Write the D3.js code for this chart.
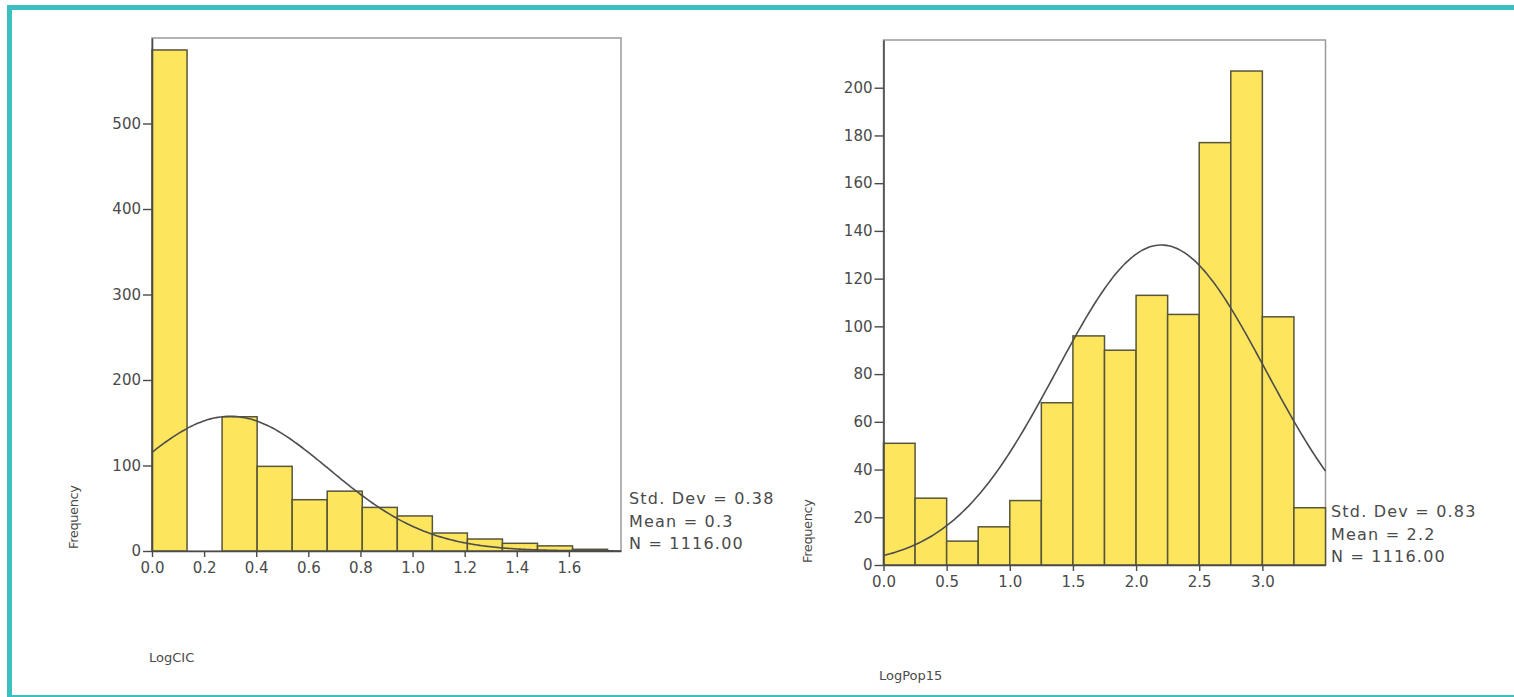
<!DOCTYPE html>
<html>
<head>
<meta charset="utf-8">
<script src="https://cdn.jsdelivr.net/npm/d3@7"></script>
<style>
  html, body { margin: 0; padding: 0; background: #ffffff; }
  svg { display: block; }
  text { font-family: "DejaVu Sans", Verdana, sans-serif; fill: #4a4a4a; }
</style>
</head>
<body>
<svg id="chart" width="1514" height="697"></svg>
<script>
// LogCIC histogram: bin counts (bins start at 0, equal width)
const cicCounts = [586, 0, 157, 99, 60, 70, 51, 41, 21, 14, 9, 6, 2];
const cicBinWidth = 0.1345;
const cicStats = { sd: 0.38, mean: 0.3, n: 1116 };
const cicXTicks = [0.0, 0.2, 0.4, 0.6, 0.8, 1.0, 1.2, 1.4, 1.6];
const cicYTicks = [0, 100, 200, 300, 400, 500];

// LogPop15 histogram
const popCounts = [51, 28, 10, 16, 27, 68, 96, 90, 113, 105, 177, 207, 104, 24];
const popBinWidth = 0.25;
const popStats = { sd: 0.83, mean: 2.2, n: 1116 };
const popXTicks = [0.0, 0.5, 1.0, 1.5, 2.0, 2.5, 3.0];
const popYTicks = [0, 20, 40, 60, 80, 100, 120, 140, 160, 180, 200];

const svg = d3.select("#chart");

// Teal page frame
const frame = "#3bbfc1";
svg.append("rect").attr("x", 7).attr("y", 5).attr("width", 1507).attr("height", 5).attr("fill", frame);
svg.append("rect").attr("x", 7).attr("y", 5).attr("width", 5).attr("height", 692).attr("fill", frame);
svg.append("rect").attr("x", 7).attr("y", 695).attr("width", 1507).attr("height", 2).attr("fill", frame);

function histogram(cfg) {
  const x = d3.scaleLinear().domain(cfg.xDomain).range(cfg.xRange);
  const y = d3.scaleLinear().domain(cfg.yDomain).range(cfg.yRange);
  const g = svg.append("g");

  // plot box (top and right edges lighter)
  g.append("rect")
    .attr("x", cfg.xRange[0]).attr("y", cfg.yRange[1])
    .attr("width", cfg.xRange[1] - cfg.xRange[0])
    .attr("height", cfg.yRange[0] - cfg.yRange[1])
    .attr("fill", "#ffffff").attr("stroke", "#9a9a9a").attr("stroke-width", 1.5);

  // bars
  const bins = cfg.counts.map((c, i) => ({ x0: i * cfg.binWidth, x1: (i + 1) * cfg.binWidth, c }));
  g.selectAll("rect.bar").data(bins.filter(d => d.c > 0)).join("rect")
    .attr("class", "bar")
    .attr("x", d => x(d.x0)).attr("width", d => x(d.x1) - x(d.x0))
    .attr("y", d => y(d.c)).attr("height", d => y(0) - y(d.c))
    .attr("fill", "#fde65e").attr("stroke", "#57553a").attr("stroke-width", 1.5);

  // fitted normal curve
  const s = cfg.stats;
  const pdf = v => s.n * cfg.binWidth / (s.sd * Math.sqrt(2 * Math.PI)) * Math.exp(-0.5 * ((v - s.mean) / s.sd) ** 2);
  const xs = d3.range(0, 201).map(i => cfg.xDomain[0] + (cfg.xDomain[1] - cfg.xDomain[0]) * i / 200);
  g.append("path")
    .datum(xs)
    .attr("fill", "none").attr("stroke", "#4d4d4d").attr("stroke-width", 1.6)
    .attr("d", d3.line().x(v => x(v)).y(v => y(pdf(v))).curve(d3.curveBasis));

  // axes
  const yAxis = g.append("g").attr("transform", `translate(${cfg.xRange[0]},0)`)
    .call(d3.axisLeft(y).tickValues(cfg.yTicks).tickSizeInner(9).tickSizeOuter(0).tickPadding(2).tickFormat(d3.format("d")));
  const xAxis = g.append("g").attr("transform", `translate(0,${cfg.yRange[0]})`)
    .call(d3.axisBottom(x).tickValues(cfg.xTicks).tickSizeInner(6).tickSizeOuter(0).tickPadding(5).tickFormat(d3.format(".1f")));
  [yAxis, xAxis].forEach(a => {
    a.select(".domain").attr("stroke", "#4a4a4a").attr("stroke-width", 1.6);
    a.selectAll(".tick line").attr("stroke", "#4a4a4a").attr("stroke-width", 1.4);
    a.selectAll(".tick text").attr("font-size", 15).attr("fill", "#4a4a4a")
      .attr("font-family", "'DejaVu Sans', Verdana, sans-serif");
  });

  // statistics block
  const lines = [`Std. Dev = ${s.sd.toFixed(2)}`, `Mean = ${s.mean}`, `N = ${s.n.toFixed(2)}`];
  g.selectAll("text.stat").data(lines).join("text")
    .attr("class", "stat")
    .attr("x", cfg.statX).attr("y", (d, i) => cfg.statY + i * 22.5)
    .attr("font-size", 16).attr("letter-spacing", 1.2).text(d => d);

  // axis titles
  g.append("text")
    .attr("transform", `translate(${cfg.freqPos[0]},${cfg.freqPos[1]}) rotate(-90)`)
    .attr("text-anchor", "middle").attr("font-size", 13).attr("textLength", 64)
    .text("Frequency");
  g.append("text")
    .attr("x", cfg.titlePos[0]).attr("y", cfg.titlePos[1])
    .attr("font-size", 13).text(cfg.title);
}

histogram({
  counts: cicCounts, binWidth: cicBinWidth, stats: cicStats,
  xDomain: [0, 1.8], xRange: [152, 621],
  yDomain: [0, 600], yRange: [551, 38],
  xTicks: cicXTicks, yTicks: cicYTicks,
  statX: 629, statY: 504,
  freqPos: [78, 517], titlePos: [149, 662], title: "LogCIC"
});

histogram({
  counts: popCounts, binWidth: popBinWidth, stats: popStats,
  xDomain: [0, 3.5], xRange: [883.5, 1325.5],
  yDomain: [0, 220], yRange: [565, 40],
  xTicks: popXTicks, yTicks: popYTicks,
  statX: 1331, statY: 517,
  freqPos: [812, 531], titlePos: [879, 680], title: "LogPop15"
});
</script>
</body>
</html>
